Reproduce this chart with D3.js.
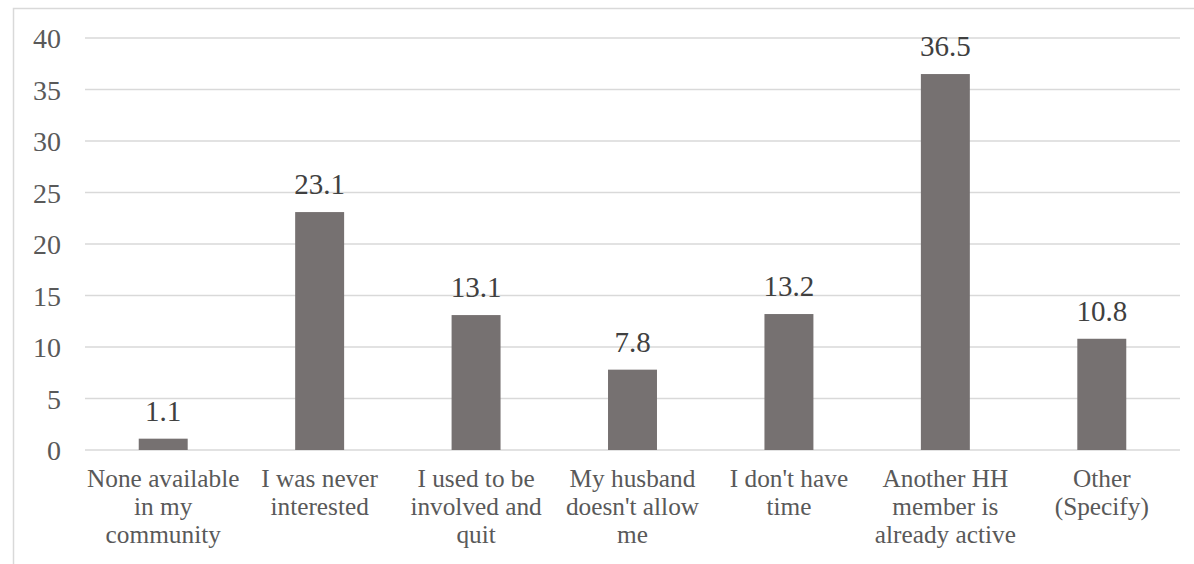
<!DOCTYPE html>
<html>
<head>
<meta charset="utf-8">
<script src="https://cdn.jsdelivr.net/npm/d3@7"></script>
<style>
  html, body { margin: 0; padding: 0; background: #fff; }
  svg { display: block; }
  svg text { font-family: "Liberation Serif", "Times New Roman", Times, "DejaVu Serif", serif; }
</style>
</head>
<body>
<svg id="chart" width="1194" height="564"></svg>
<script>
// Reasons for not being involved (percent of respondents)
const categories = [
  "None available\nin my\ncommunity",
  "I was never\ninterested",
  "I used to be\ninvolved and\nquit",
  "My husband\ndoesn't allow\nme",
  "I don't have\ntime",
  "Another HH\nmember is\nalready active",
  "Other\n(Specify)"
];
const values = [1.1, 23.1, 13.1, 7.8, 13.2, 36.5, 10.8];
const yTicks = [0, 5, 10, 15, 20, 25, 30, 35, 40];

const svg = d3.select("#chart");
const W = 1194, H = 564;
const plot = { left: 85, right: 1180, top: 38, bottom: 450 };
const textColor = "#595959";
const gridColor = "#d9d9d9";
const barColor = "#767171";

// chart area border
svg.append("rect")
  .attr("x", 13.5).attr("y", 8.5)
  .attr("width", W + 20).attr("height", H + 20)
  .attr("fill", "none")
  .attr("stroke", gridColor)
  .attr("stroke-width", 1.5);

const x = d3.scaleBand()
  .domain(categories)
  .range([plot.left, plot.right])
  .paddingInner(0.687)
  .paddingOuter(0.3435);

const y = d3.scaleLinear()
  .domain([0, 40])
  .range([plot.bottom, plot.top]);

// horizontal gridlines
svg.append("g")
  .selectAll("line")
  .data(yTicks)
  .join("line")
  .attr("x1", plot.left).attr("x2", plot.right)
  .attr("y1", d => y(d)).attr("y2", d => y(d))
  .attr("stroke", gridColor)
  .attr("stroke-width", 1.5);

// y axis labels
const yAxis = d3.axisLeft(y).tickValues(yTicks).tickSize(0).tickPadding(0);
const gy = svg.append("g")
  .attr("transform", `translate(${plot.left - 24},0)`)
  .call(yAxis)
  .attr("font-family", null);
gy.select(".domain").remove();
gy.selectAll("text")
  .attr("font-size", 28)
  .attr("fill", textColor)
  .attr("dy", "0.34em");

// bars
svg.append("g")
  .selectAll("rect")
  .data(values)
  .join("rect")
  .attr("x", (d, i) => x(categories[i]))
  .attr("width", x.bandwidth())
  .attr("y", d => y(d))
  .attr("height", d => y(0) - y(d))
  .attr("fill", barColor);

// value labels
svg.append("g")
  .selectAll("text")
  .data(values)
  .join("text")
  .attr("x", (d, i) => x(categories[i]) + x.bandwidth() / 2)
  .attr("y", d => y(d) - 18)
  .attr("text-anchor", "middle")
  .attr("font-size", 29)
  .attr("fill", "#404040")
  .text(d => d.toFixed(1));

// category labels (multi-line)
const xAxis = d3.axisBottom(x).tickSize(0).tickPadding(0);
const gx = svg.append("g")
  .attr("transform", `translate(0,${plot.bottom})`)
  .call(xAxis)
  .attr("font-family", null);
gx.select(".domain").remove();
gx.selectAll("text")
  .attr("font-size", 25.3)
  .attr("fill", textColor)
  .attr("y", 0)
  .attr("dy", null)
  .each(function(d) {
    const t = d3.select(this);
    t.text(null);
    d.split("\n").forEach((line, k) => {
      t.append("tspan")
        .attr("x", 0)
        .attr("y", 37 + k * 28)
        .text(line);
    });
  });
</script>
</body>
</html>
